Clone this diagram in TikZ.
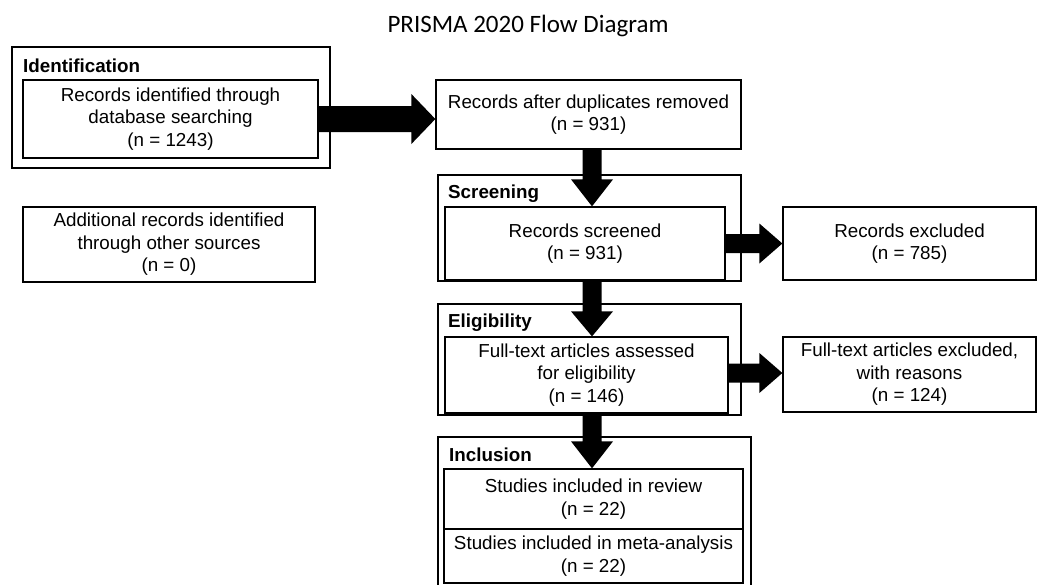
\documentclass[tikz,border=0pt]{standalone}
\usepackage{fontspec}
\setmainfont{Liberation Sans}
\newfontfamily\titlefont{Carlito}
\usetikzlibrary{calc}
% right-pointing fat arrow: start, tip, half shaft, half head, head length
\newcommand\fatright[5]{%
  \fill[black] ($(#1)+(0,-#3)$) -- ($(#2)+(-#5,-#3)$) -- ($(#2)+(-#5,-#4)$) -- (#2)
    -- ($(#2)+(-#5,#4)$) -- ($(#2)+(-#5,#3)$) -- ($(#1)+(0,#3)$) -- cycle;}
% down-pointing fat arrow (y axis points down)
\newcommand\fatdown[5]{%
  \fill[black] ($(#1)+(-#3,0)$) -- ($(#2)+(-#3,-#5)$) -- ($(#2)+(-#4,-#5)$) -- (#2)
    -- ($(#2)+(#4,-#5)$) -- ($(#2)+(#3,-#5)$) -- ($(#1)+(#3,0)$) -- cycle;}
\begin{document}
\begin{tikzpicture}[x=1pt,y=-1pt,
  box/.style={draw=black, line width=1.3pt, align=center, inner sep=0pt,
    font=\fontsize{18.8}{22.5}\selectfont},
  stage/.style={draw=black, line width=1.3pt, inner sep=0pt},
  stagelabel/.style={font=\fontsize{18.8}{22.5}\selectfont\bfseries, anchor=base west, inner sep=0pt}]
\useasboundingbox[fill=white] (0,0) rectangle (1038,584);

% title
\node[font=\titlefont\fontsize{25}{30}\selectfont, anchor=base, inner sep=0pt] (title) at (528,32) {PRISMA 2020 Flow Diagram};

% stage frames
\node[stage, minimum width=318pt, minimum height=121pt] (idS) at (171,107.5) {};
\node[stage, minimum width=303pt, minimum height=106pt] (scS) at (589.5,228) {};
\node[stage, minimum width=303pt, minimum height=111pt] (elS) at (589.5,359.5) {};
\node[stage, minimum width=313pt, minimum height=150pt] (inS) at (594.5,512) {};

% stage labels
\node[stagelabel] (idL) at (23,72) {Identification};
\node[stagelabel] (scL) at (448,198) {Screening};
\node[stagelabel] (elL) at (448,327) {Eligibility};
\node[stagelabel] (inL) at (449,461) {Inclusion};

% boxes
\node[box, minimum width=295pt, minimum height=78pt] (id) at (170.5,119)
  {Records identified through\\database searching\\(n = 1243)};
\node[box, minimum width=292pt, minimum height=75pt] (add) at (169,244.5)
  {Additional records identified\\through other sources\\(n = 0)};
\node[box, minimum width=305pt, minimum height=69pt] (dup) at (588.5,114.5)
  {Records after duplicates removed\\(n = 931)};
\node[box, minimum width=280pt, minimum height=73pt] (scr) at (585,243.5)
  {Records screened\\(n = 931)};
\node[box, minimum width=253pt, minimum height=73pt] (exc) at (909.5,243.5)
  {Records excluded\\(n = 785)};
\node[box, minimum width=283pt, minimum height=76pt] (eli) at (586.5,375)
  {Full-text articles assessed\\for eligibility\\(n = 146)};
\node[box, minimum width=253pt, minimum height=75pt] (fte) at (909.5,374.5)
  {Full-text articles excluded,\\with reasons\\(n = 124)};
\node[box, minimum width=299pt, minimum height=60pt] (rev) at (593.5,499)
  {Studies included in review\\(n = 22)};
\node[box, minimum width=299pt, minimum height=54pt] (meta) at (593.5,556)
  {Studies included in meta-analysis\\(n = 22)};

% arrow end points
\coordinate (axis) at (592,0);
\coordinate (a1s) at (id.east);
\coordinate (a1e) at (id.east -| dup.west);
\coordinate (a2s) at (axis |- dup.south);
\coordinate (a2e) at (axis |- scr.north);
\coordinate (a3s) at (scr.east);
\coordinate (a3e) at (scr.east -| exc.west);
\coordinate (a4s) at (axis |- scr.south);
\coordinate (a4e) at (axis |- eli.north);
\coordinate (a5s) at ($(eli.east)+(0,-2)$);
\coordinate (a5e) at (a5s -| fte.west);
\coordinate (a6s) at (axis |- eli.south);
\coordinate (a6e) at (axis |- rev.north);

\fatright{a1s}{a1e}{13}{25}{24}
\fatdown{a2s}{a2e}{9.5}{21}{27}
\fatright{a3s}{a3e}{9.5}{20}{23}
\fatdown{a4s}{a4e}{9.5}{21}{25}
\fatright{a5s}{a5e}{9.5}{20}{23}
\fatdown{a6s}{a6e}{9.5}{21}{27}
\end{tikzpicture}
\end{document}
